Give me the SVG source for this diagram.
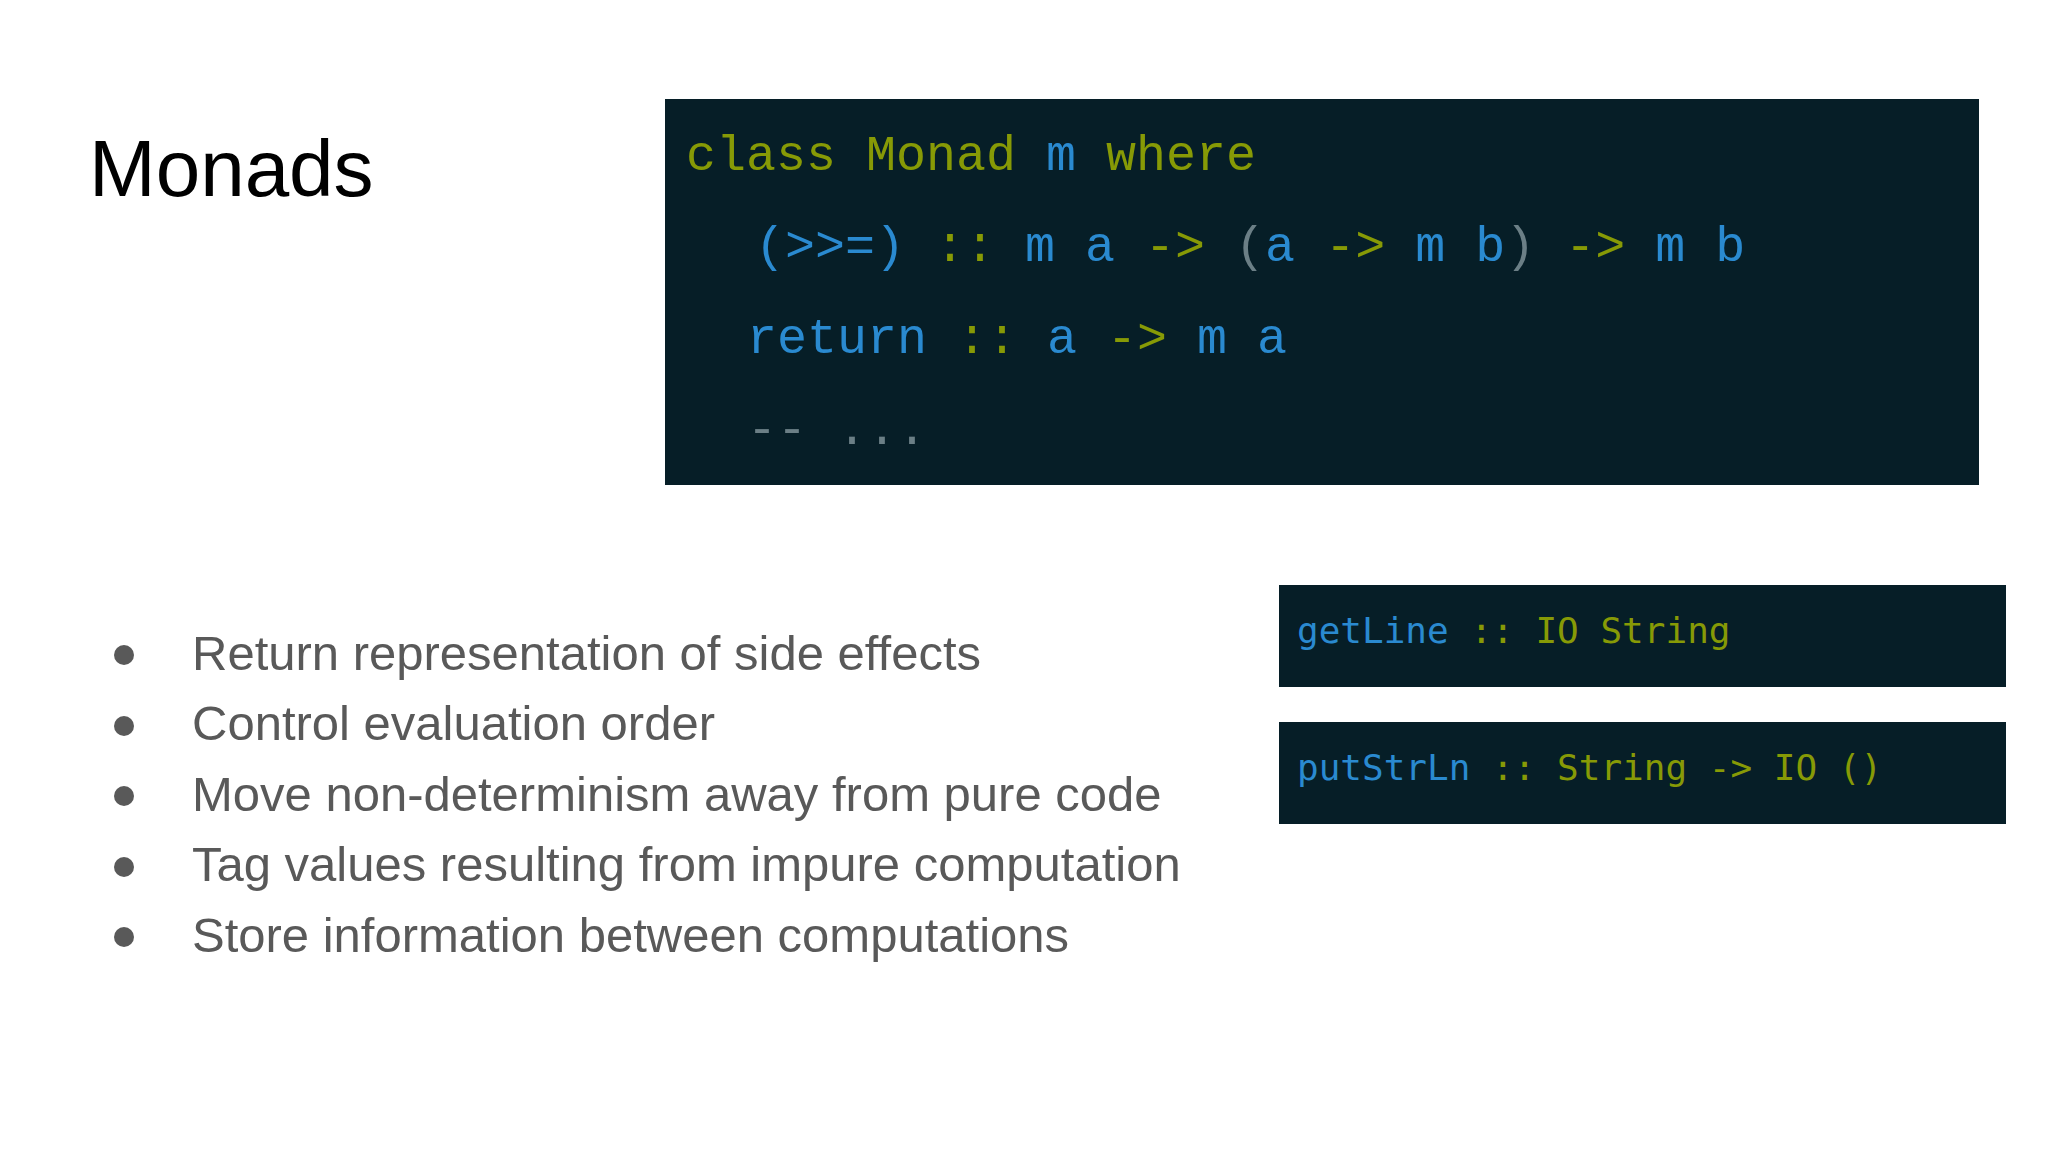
<svg xmlns="http://www.w3.org/2000/svg" width="2048" height="1152" viewBox="0 0 2048 1152">
<style>
.box{fill:#061e27}
.code{font-family:"Liberation Mono",monospace;font-size:50px}
.sc{font-family:"DejaVu Sans Mono","Liberation Mono",monospace;font-size:36px}
.g{fill:#879a06}.b{fill:#2a8ad0}.c{fill:#6b7f86}
.bul{font-family:"Liberation Sans",Arial,sans-serif;font-size:49px;fill:#595959}
</style>
<rect width="2048" height="1152" fill="#fff"/>
<text x="89" y="196" font-family="Liberation Sans,Arial,sans-serif" font-size="80" fill="#000">Monads</text>
<g id="monad-class">
<rect class="box" x="665" y="99" width="1314" height="386"/>
<text class="code" x="686" y="170" xml:space="preserve"><tspan class="g">class Monad </tspan><tspan class="b">m </tspan><tspan class="g">where</tspan></text>
<text class="code" x="755" y="261" xml:space="preserve"><tspan class="b">(&gt;&gt;=) </tspan><tspan class="g">:: </tspan><tspan class="b">m a </tspan><tspan class="g">-&gt; </tspan><tspan class="c">(</tspan><tspan class="b">a </tspan><tspan class="g">-&gt; </tspan><tspan class="b">m b</tspan><tspan class="c">) </tspan><tspan class="g">-&gt; </tspan><tspan class="b">m b</tspan></text>
<text class="code" x="747" y="353" xml:space="preserve"><tspan class="b">return </tspan><tspan class="g">:: </tspan><tspan class="b">a </tspan><tspan class="g">-&gt; </tspan><tspan class="b">m a</tspan></text>
<text class="code c" x="747" y="444" xml:space="preserve">-- ...</text>
</g>
<g id="getline">
<rect class="box" x="1279" y="585" width="727" height="102"/>
<text class="sc" x="1297" y="643" xml:space="preserve"><tspan class="b">getLine </tspan><tspan class="g">:: IO String</tspan></text>
</g>
<g id="putstrln">
<rect class="box" x="1279" y="722" width="727" height="102"/>
<text class="sc" x="1297" y="780" xml:space="preserve"><tspan class="b">putStrLn </tspan><tspan class="g">:: String -&gt; IO ()</tspan></text>
</g>
<g id="bullets">
<g fill="#595959"><circle cx="124" cy="655" r="10"/><circle cx="124" cy="726" r="10"/><circle cx="124" cy="796" r="10"/><circle cx="124" cy="867" r="10"/><circle cx="124" cy="937" r="10"/></g>
<text class="bul" x="192" y="670">Return representation of side effects</text>
<text class="bul" x="192" y="740">Control evaluation order</text>
<text class="bul" x="192" y="811">Move non-determinism away from pure code</text>
<text class="bul" x="192" y="881">Tag values resulting from impure computation</text>
<text class="bul" x="192" y="952">Store information between computations</text>
</g>
</svg>
